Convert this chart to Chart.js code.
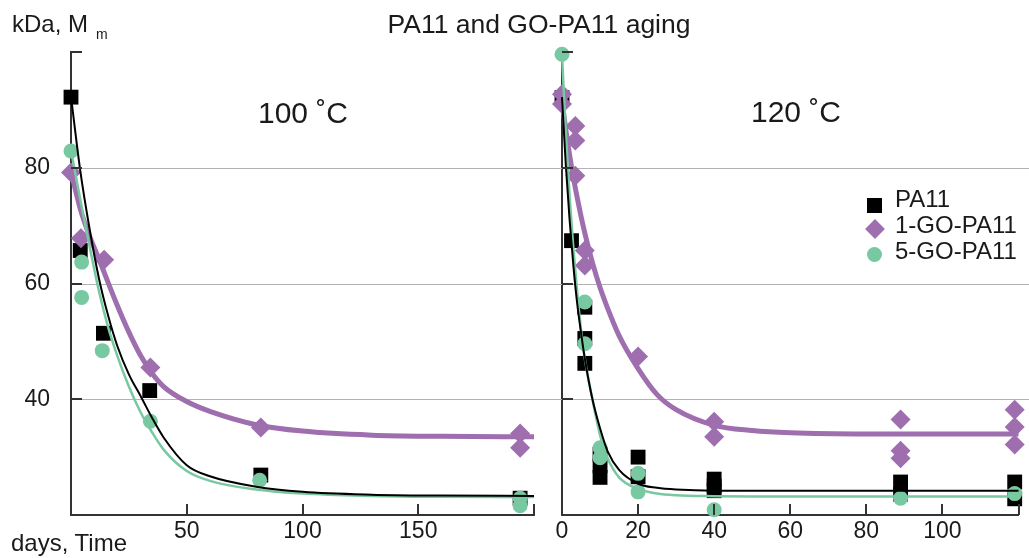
<!DOCTYPE html>
<html>
<head>
<meta charset="utf-8">
<script src="https://cdn.jsdelivr.net/npm/chart.js@4/dist/chart.umd.min.js"></script>
<style>
  body { margin: 0; background: #fff; }
  #page { position: relative; width: 1029px; height: 558px; overflow: hidden; font-family: "Liberation Sans", Arial, sans-serif; color: #1a1a1a; }
  canvas { position: absolute; top: 0; }
  .txt { position: absolute; line-height: 1; white-space: nowrap; }
  .mid { transform: translate(-50%, -50%); }
  .leg { position: absolute; left: 895px; font-size: 24px; line-height: 1; transform: translateY(-50%); }
  .mk { position: absolute; }
</style>
</head>
<body>
<div id="page">
  <canvas id="c100" width="548" height="558" style="left:0"></canvas>
  <canvas id="c120" width="481" height="558" style="left:548px"></canvas>

  <div class="txt" style="left:12px; top:12px; font-size:24px">kDa, M<span style="font-size:14px; position:relative; top:7px; left:8px">m</span></div>
  <div class="txt mid" style="left:539px; top:24px; font-size:26.5px">PA11 and GO-PA11 aging</div>
  <div class="txt" style="left:11px; top:531px; font-size:24px">days, Time</div>
  <div class="txt mid" style="left:303px; top:113px; font-size:30px">100 ˚C</div>
  <div class="txt mid" style="left:796px; top:112px; font-size:30px">120 ˚C</div>

  <div class="mk" style="left:867px; top:198px; width:15px; height:15px; background:#000"></div>
  <div class="mk" style="left:868px; top:222px; width:14px; height:14px; background:#9e6eaf; transform:rotate(45deg)"></div>
  <div class="mk" style="left:867px; top:247px; width:15px; height:15px; border-radius:50%; background:#78c9a1"></div>
  <div class="leg" style="top:199px">PA11</div>
  <div class="leg" style="top:225px">1-GO-PA11</div>
  <div class="leg" style="top:251px">5-GO-PA11</div>
</div>

<script>
// ---------- 100 °C measurements ----------
const pa11Days100 = [0, 4, 14, 34, 82, 194]
const pa11Mm100 = [92.2, 65.7, 51.4, 41.5, 26.9, 22.9]
const go1Days100 = [0, 4.3, 14.3, 34.3, 82, 194, 194]
const go1Mm100 = [79.2, 67.8, 64.1, 45.5, 35.1, 34.1, 31.6]
const go5Days100 = [0, 4.6, 4.6, 13.5, 34.3, 81.5, 194, 194]
const go5Mm100 = [82.9, 63.7, 57.6, 48.4, 36.2, 26.0, 22.9, 21.6]

// fitted curves, 100 °C
const fitDays100 = [0, 4, 8, 12, 16, 20, 25, 30, 35, 40, 50, 60, 80, 100, 130, 160, 200]
const fitPa11_100 = [92.3, 79.5, 69.5, 61, 54.5, 49.2, 44.3, 40.6, 36.8, 33.4, 28.6, 26.7, 24.9, 24.0, 23.5, 23.35, 23.3]
const fitGo1_100 = [79.3, 72.9, 68.2, 64.3, 60.2, 56.2, 51.6, 47.6, 44.5, 42.2, 39.6, 37.9, 35.6, 34.5, 33.8, 33.6, 33.5]
const fitGo5_100 = [83, 74.5, 66.5, 58.8, 52.5, 47.5, 42.2, 37.8, 34.3, 31.3, 27.6, 25.9, 24.4, 23.7, 23.3, 23.15, 23.1]

// ---------- 120 °C measurements ----------
const pa11Days120 = [0, 2.5, 6, 6, 6, 10, 10, 10, 20, 20, 40, 40, 40, 89, 89, 119, 119]
const pa11Mm120 = [92.1, 67.4, 55.9, 50.5, 46.2, 30.5, 28.5, 26.5, 30.0, 26.6, 26.2, 25.0, 24.2, 25.7, 23.6, 25.7, 22.8]
const go1Days120 = [0, 0, 3.5, 3.5, 3.5, 6, 6, 20, 40, 40, 89, 89, 89, 119, 119, 119]
const go1Mm120 = [92.7, 91.0, 87.2, 84.7, 78.6, 65.7, 63.1, 47.4, 36.1, 33.5, 36.5, 31.1, 29.8, 38.2, 35.2, 32.2]
const go5Days120 = [0, 6, 6, 10, 10, 20, 20, 40, 89, 119]
const go5Mm120 = [99.6, 56.8, 49.6, 31.6, 29.9, 27.2, 24.0, 20.9, 22.9, 23.7]

// fitted curves, 120 °C
const fitDays120 = [0, 1, 2, 3, 4, 5, 6, 8, 10, 12, 15, 20, 25, 30, 40, 50, 60, 80, 100, 120]
const fitPa11_120 = [92.2, 80.5, 71, 63, 56.5, 51.5, 47, 40, 35, 31, 27.8, 25.4, 24.7, 24.4, 24.2, 24.2, 24.2, 24.2, 24.2, 24.2]
const fitGo1_120 = [91.5, 86.6, 82.2, 78.3, 74.8, 71.6, 68.7, 63.6, 59.3, 55.7, 51.0, 45.3, 40.8, 38.2, 35.5, 34.6, 34.2, 34.0, 34.0, 34.0]
const fitGo5_120 = [99.6, 86, 75, 66, 58.5, 52, 47, 40, 33.8, 29.8, 26.5, 24.5, 23.7, 23.4, 23.25, 23.2, 23.2, 23.2, 23.2, 23.2]

const gridValues = [40, 60, 80]

const BLACK = "#000000"
const PURPLE = "#9e6eaf"
const GREEN = "#78c9a1"
const AXIS = "#333333"

Chart.defaults.font.family = "'Liberation Sans', Arial, sans-serif"
Chart.defaults.color = "#1a1a1a"

const pts = (xs, ys) => xs.map((x, i) => ({ x, y: ys[i] }))

/* ---------- grid lines across both panels + inward ticks ---------- */
const axisFrame = {
  id: "axisFrame",
  beforeDatasetsDraw(chart, args, opts) {
    const { ctx, chartArea, scales } = chart
    const from = opts.gridFrom != null ? opts.gridFrom : chartArea.left
    ctx.save()
    ctx.strokeStyle = "#b3b3b3"
    ctx.lineWidth = 1
    gridValues.forEach(v => {
      const py = Math.round(scales.y.getPixelForValue(v)) + 0.5
      ctx.beginPath()
      ctx.moveTo(from, py)
      ctx.lineTo(chart.width, py)
      ctx.stroke()
    })
    ctx.restore()
  },
  afterDraw(chart) {
    const { ctx, chartArea, scales } = chart
    ctx.save()
    ctx.strokeStyle = AXIS
    ctx.lineWidth = 2
    scales.y.ticks.forEach(t => {
      if (t.value === scales.y.min) return
      const py = Math.round(scales.y.getPixelForValue(t.value))
      ctx.beginPath()
      ctx.moveTo(chartArea.left, py)
      ctx.lineTo(chartArea.left + 11, py)
      ctx.stroke()
    })
    scales.x.ticks.forEach(t => {
      if (t.value === scales.x.min) return
      const px = Math.round(scales.x.getPixelForValue(t.value))
      ctx.beginPath()
      ctx.moveTo(px, chartArea.bottom)
      ctx.lineTo(px, chartArea.bottom - 11)
      ctx.stroke()
    })
    ctx.restore()
  }
}

function curve(data, color, width) {
  return {
    data, showLine: true, borderColor: color, borderWidth: width,
    pointRadius: 0, cubicInterpolationMode: "monotone", clip: false
  }
}

function marks(data, color, style, radius) {
  return {
    data, showLine: false, pointStyle: style, pointRadius: radius,
    backgroundColor: color, borderColor: color, borderWidth: 0, clip: false
  }
}

function makePanel(id, cfg) {
  return new Chart(document.getElementById(id), {
    type: "scatter",
    data: {
      datasets: [
        curve(cfg.pa11Fit, BLACK, 2),
        curve(cfg.go5Fit, GREEN, 2.5),
        curve(cfg.go1Fit, PURPLE, 5),
        marks(cfg.go5, GREEN, "circle", 7.5),
        marks(cfg.go1, PURPLE, "rectRot", 10),
        marks(cfg.pa11, BLACK, "rect", 10.5)
      ]
    },
    options: {
      responsive: false,
      animation: false,
      events: [],
      layout: { padding: { left: 0, right: cfg.padRight, top: 52, bottom: 0 } },
      plugins: {
        legend: { display: false },
        tooltip: { enabled: false },
        axisFrame: { gridFrom: cfg.gridFrom }
      },
      scales: {
        x: {
          type: "linear", min: 0, max: cfg.xMax,
          grid: { display: false, drawTicks: false },
          border: { display: true, color: AXIS, width: 2 },
          ticks: {
            stepSize: cfg.xStep, padding: 3, maxRotation: 0, autoSkip: false,
            font: { size: 23 },
            callback: v => (cfg.xHide.includes(v) ? "" : v)
          },
          afterFit: s => { s.height = 43 }
        },
        y: {
          type: "linear", min: 20, max: 100,
          grid: { display: false, drawTicks: false },
          border: { display: true, color: AXIS, width: 2 },
          ticks: {
            display: cfg.yLabels, stepSize: 20, padding: 21,
            font: { size: 23 },
            callback: v => (v === 20 || v === 100 ? "" : v)
          },
          afterFit: s => { s.width = cfg.yWidth }
        }
      }
    },
    plugins: [axisFrame]
  })
}

makePanel("c100", {
  pa11: pts(pa11Days100, pa11Mm100),
  go1: pts(go1Days100, go1Mm100),
  go5: pts(go5Days100, go5Mm100),
  pa11Fit: pts(fitDays100, fitPa11_100),
  go1Fit: pts(fitDays100, fitGo1_100),
  go5Fit: pts(fitDays100, fitGo5_100),
  xMax: 200, xStep: 50, xHide: [0, 200],
  yWidth: 71, yLabels: true, padRight: 14, gridFrom: null
})

makePanel("c120", {
  pa11: pts(pa11Days120, pa11Mm120),
  go1: pts(go1Days120, go1Mm120),
  go5: pts(go5Days120, go5Mm120),
  pa11Fit: pts(fitDays120, fitPa11_120),
  go1Fit: pts(fitDays120, fitGo1_120),
  go5Fit: pts(fitDays120, fitGo5_120),
  xMax: 120, xStep: 20, xHide: [120],
  yWidth: 14, yLabels: false, padRight: 3, gridFrom: 0
})
</script>
</body>
</html>
